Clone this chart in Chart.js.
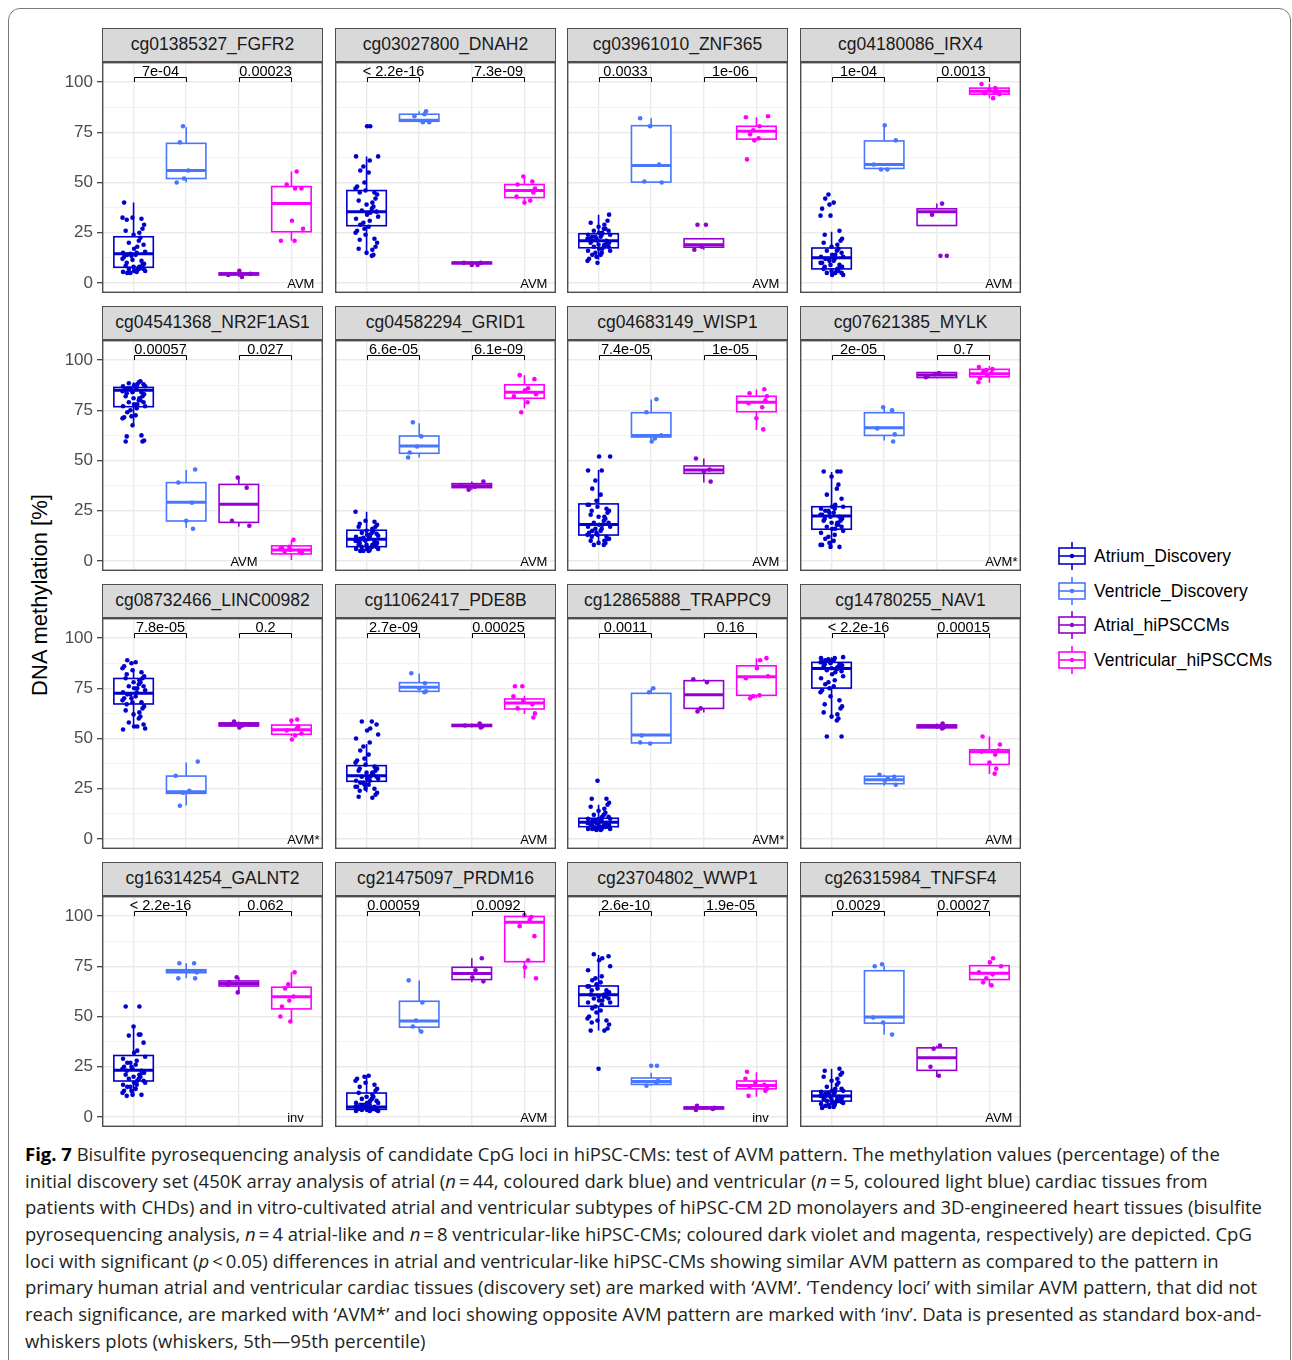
<!DOCTYPE html>
<html>
<head>
<meta charset="utf-8">
<script src="https://cdn.jsdelivr.net/npm/chart.js@4.4.1/dist/chart.umd.min.js"></script>
<style>
  body { margin: 0; background: #fff; width: 1292px; height: 1360px; position: relative; overflow: hidden;
         font-family: "Liberation Sans", Arial, sans-serif; }
  .frame { position: absolute; left: 8px; top: 8px; width: 1283px; height: 1400px; border: 1.5px solid #7a7a7a;
           border-radius: 12px; box-sizing: border-box; }
  .strip { position: absolute; height: 34px; width: 221px; background: #d9d9d9; border: 1.3px solid #4d4d4d;
           box-sizing: border-box; font-size: 17.5px; color: #1a1a1a; text-align: center; line-height: 31px; }
  canvas { position: absolute; }
  .ytitle { position: absolute; left: 40px; top: 595px; transform: translate(-50%, -50%) rotate(-90deg);
            font-size: 22px; white-space: nowrap; color: #000; }
  .leg { position: absolute; left: 1058px; height: 28px; display: flex; align-items: center; font-size: 17.5px; color: #000; }
  .leg svg { margin-right: 8px; }
  .caption { position: absolute; left: 25px; top: 1141px; font-family: "Open Sans", sans-serif; font-size: 17.5px;
             color: #231f20; transform-origin: 0 0; }
  .caption div { height: 26.7px; line-height: 26.7px; white-space: nowrap; }
  .caption b { color: #000; }
</style>
</head>
<body>
<div class="frame"></div>
<div class="ytitle">DNA methylation [%]</div>
<div id="root"></div>
<div id="legend"></div>
<div class="caption" id="caption"></div>
<script>
const probes = ['cg01385327_FGFR2', 'cg03027800_DNAH2', 'cg03961010_ZNF365', 'cg04180086_IRX4',
  'cg04541368_NR2F1AS1', 'cg04582294_GRID1', 'cg04683149_WISP1', 'cg07621385_MYLK',
  'cg08732466_LINC00982', 'cg11062417_PDE8B', 'cg12865888_TRAPPC9', 'cg14780255_NAV1',
  'cg16314254_GALNT2', 'cg21475097_PRDM16', 'cg23704802_WWP1', 'cg26315984_TNFSF4'];
const groups = ['Atrium_Discovery', 'Ventricle_Discovery', 'Atrial_hiPSCCMs', 'Ventricular_hiPSCCMs'];
const colors = ['#0000CD', '#4876FF', '#9400D3', '#FF00FF'];

const pAtrVen = ['7e-04', '< 2.2e-16', '0.0033', '1e-04', '0.00057', '6.6e-05', '7.4e-05', '2e-05',
  '7.8e-05', '2.7e-09', '0.0011', '< 2.2e-16', '< 2.2e-16', '0.00059', '2.6e-10', '0.0029'];
const pHipsc = ['0.00023', '7.3e-09', '1e-06', '0.0013', '0.027', '6.1e-09', '1e-05', '0.7',
  '0.2', '0.00025', '0.16', '0.00015', '0.062', '0.0092', '1.9e-05', '0.00027'];
const notes = ['AVM', 'AVM', 'AVM', 'AVM', 'AVM', 'AVM', 'AVM', 'AVM*',
  'AVM*', 'AVM', 'AVM*', 'AVM', 'inv', 'AVM', 'inv', 'AVM'];
const yTicks = [0, 12.5, 25, 37.5, 50, 62.5, 75, 87.5, 100];

// box stats: [whisker low, q1, median, q3, whisker high]
const boxAtrium = [[5,7.8,14.5,23,40],[15,28.5,35.5,46,63],[11.5,17.5,21,24.5,34],[4,7,12.5,17.4,25.5],
  [68,76.8,85,86.4,89],[5,7.1,10.8,15.3,24.5],[8,12.9,18.2,28.4,45.3],[7,15.8,22.4,27,44.3],
  [55.6,67.2,72.5,79.9,84.9],[23.2,28.7,31.5,36.5,47.3],[4.5,6.1,8.3,10.3,17],[59.7,75.1,84.9,87.9,90.5],
  [10.8,17.9,23.2,30.6,45],[3,3.8,5,11.9,20.7],[43,55.1,60.8,65.2,80.6],[6,7.9,10.4,12.9,24]];
const boxVentricle = [[50,52,56,69.5,77.5],[80,80.5,81,84,85.5],[50,50.2,58.5,78.3,82],[56.5,57,59,70.7,78.5],
  [16.5,19.9,29.2,39,45.3],[51.5,53.6,57.2,62.2,68.5],[59.7,61.7,62.5,73.8,80.4],[60,62.5,66.3,73.8,76.6],
  [16.6,22.7,23.5,31.3,38.1],[73,73.5,75.5,77.8,82.4],[47.5,47.8,51.7,72.5,75],[26.5,27.5,29.5,31.2,32],
  [69,71.8,72.5,73.3,76.5],[42.5,44.7,47.8,57.6,67.9],[15.5,16.2,17.7,19.4,22],[41,46.7,49.7,72.8,75.3]];
const boxAtrialIPS = [[3,4,4.5,5,6],[9,9.5,10,10.3,10.5],[16.5,17.8,19,22,22],[28.6,28.6,35.5,36.9,39.5],
  [17,19.2,28.2,38.1,41.5],[35.5,36.5,37.5,38.5,39.5],[39,43.6,45.3,47.3,51],[91,91.3,92.6,93.8,94],
  [55.5,56.2,57,57.8,58.5],[55.5,56,56.5,57,57.5],[63,65,71.8,78.8,79.5],[55,55.3,56,56.8,57.5],
  [62,65.2,66.5,67.7,69.5],[67,68.4,71.4,74.5,79],[3.5,4,4.5,5,5.5],[19.9,23.2,29.5,34.4,35.5]];
const boxVentricularIPS = [[21,25.5,39.5,48,55.5],[40,42.5,46,49,52.5],[71,71.6,75.5,78,82.5],[92,94,95.5,97,99],
  [0.5,3.5,5.5,7.5,10.4],[76,81,84,87.7,92.4],[65.2,74.3,79,82,85.4],[88.7,91.7,93.2,95.4,97],
  [51,52.1,54.4,56.7,59],[62.2,64.7,67.7,69.7,71.3],[70,71.5,80.8,86.2,90],[32.3,37.1,43.4,44.4,51],
  [48,53.8,59.9,64.6,72],[69,77.3,96.9,99.8,100.5],[10,14,15.7,17.9,22.3],[65,68.4,71.5,75.3,78]];

// individual samples (jittered points)
const atrium = [
  [40,32.5,32.5,32,31.5,29,27,26,25,24,22.5,21,20,19,18,17,15.5,15,15,14.5,14,14,13.5,13,12,11.5,11,10,9.5,9,8.5,8,8,7.5,7,7,7,6.5,6,6,5.5,5.5,5,5],
  [78,78,63,63,61,58,56,55,50,48,47,46,45,45,44,42,41,40,39,38,37,36,35.5,35,34,33,32,31,30,29,28,27,26,25,24,22,21.5,20,18,17,16.5,15,14,13.5],
  [34,31,30,29,28,27,27,26,26,25,25,24,24,24,23,23,23,22,22,22,21,21,21,20,20,20,19,19,19,18,18,18,17,17,16,16,15,15,14,14,13,12,11,10],
  [44,42,40,39,37,33.5,33.5,26,24,22,21,20,19,18,17,16,16,15,14,14,13,13,12,12,12,11,11,10,10,9,9,8,8,8,7,7,6,6,6,5,5,5,4,4],
  [89.5,89,88.5,88,88,87.5,87,87,86.5,86,86,85.5,85,85,84.5,84,84,83.5,83,82,82,81,81,80,80,79,79,78,78,77,77,76,75,74,72.5,72,71.5,71,67.5,62.5,62,60,59.5,59.5],
  [24.5,20,19.5,18.5,18,17,17,16,15,15,14,14,13.5,13,13,12.5,12,12,11.5,11,11,10.5,10,10,10,9.5,9,9,8.5,8,8,8,7.5,7,7,7,6.5,6,6,6,5.5,5,5,5],
  [52,52,45,45,40,36,33,30,28,28,27,26,25,25,24,23,22,22,21,20,19,19,18,18,17,17,16,16,15,15,14,14,13,13,12,12,11,11,10,10,9,9,8,8],
  [44.5,44.5,44.5,42,38,36,33,31,28,27,27,26,26,25,25,24,24,23,23,22,22,21,21,20,20,19,19,18,18,17,17,16,16,15,14,13,12,11,10,9,8,8,7,7],
  [89,88,87.5,86,85,84,83,82,81,80,80,79,78,78,77,76,76,75,75,74,73,73,72,72,71,70,70,69,68,68,67,66,65,64,63,62,61,60,58,57,56,56,55,54.5],
  [58.5,58.5,57,55,54,52,50,48,46,44,42,40,39,38,37,36,35,35,34,34,33,33,32,32,31,31,31,30,30,29,29,28,28,27,27,26,26,25,25,24,23,22,21,20.5],
  [29,20,20,18,17,16,15,14,13,12,12,11,11,10,10,10,9,9,9,9,8,8,8,8,8,7,7,7,7,7,7,6,6,6,6,6,6,5,5,5,5,5,4.5,4.5],
  [90.5,90,90,89.5,89,89,88.5,88,88,87.5,87,87,86.5,86,86,85.5,85,85,84.5,84,83.5,83,82,81,80,79,78,77,76,75,74,73,71,69,67,66,65,63,62,61,60,59,51,51],
  [55,55,45,41,41,40.5,37,33,32,30,29,28,27,27,26,25,25,24,24,23,23,22,22,21,21,20,20,19,19,18,18,17,17,16,16,15,15,14,13,13,12,11,11,10.5],
  [20.5,20,19,18,17,16,15,14,13,12,11,10,10,9,9,8,8,7,7,7,6,6,6,6,5,5,5,5,5,5,4,4,4,4,4,4,4,3.5,3.5,3.5,3.5,3,3,3],
  [81,80,79,78,75,73,70,69,68,67,66,65,65,64,63,63,62,62,61,61,60,60,60,59,59,58,58,57,57,56,55,54,53,52,50,49,48,48,47,46,44,43,43,24],
  [24,23,22,21,20,19,18,17,16,15,14,14,13,13,12.5,12,12,11.5,11,11,10.5,10.5,10,10,10,9.5,9,9,9,8.5,8,8,8,7.5,7,7,7,6.5,6,6,5.5,5,5,4.5]];
const ventricle = [[78,70,56,52,50],[85.5,84,83,80,80],[82,78,59,50.5,50],[78.5,71,59,56.5,56.5],
  [45.5,39,29,20,16],[69,62,57,54,51.5],[80.5,74,62.5,61,59.5],[76.5,75,66,63,59.5],
  [38.5,31.5,24,23,16.5],[82.5,77.5,75,73.5,73],[75,73,51.5,48,47.5],[32,31,30,29,27],
  [76.5,76.5,72,69,69],[68,57,48,45,42.5],[25.5,25.5,18,17,15.5],[76,75,49.5,47,41]];
const atrialIPS = [[6,4.5,4,3],[10,10,9,9],[29,29,18,16.5],[39.5,34,13.5,13.5],
  [41.5,36.5,20,17.5],[39.5,37.5,37,35.5],[51,45.5,44.5,39.5],[93.5,93,92,91.5],
  [58.5,57,56.5,55.5],[57.5,56.5,56,55.5],[79.5,78,65,63.5],[57.5,56,55.5,55],
  [69.5,67,66,62],[79,73,69.5,67.5],[5.5,4.5,4,3.5],[35.5,34,25,20.5]];
const ventricularIPS = [[55.5,49,47,47,31,27,21,21],[53,50.5,49,47,45,43,41,40],[83,82.5,78,76,74,72,71,61.5],
  [99,97,96,95.5,95,94.5,94,92],[10.5,7,6.5,6,5.5,5,4.5,4],[92.5,90.5,86,85,83,82,79,74],
  [85.5,83.5,82,80,78.5,76.5,71,65.5],[96.5,95.5,95,94,93.5,92.5,91,89],[59.5,59,56,55,54,52.5,51.5,49.5],
  [76,76,71,69,67,65,62.5,60.5],[90,89,85,81,80,71.5,71,70],[51,47,44,43.5,42,38,35,32.5],
  [72,66,64,60,58,55,50,47.5],[100.5,99.5,98,95,90,78,74.5,69],[22.5,19,17,16,15,14,13,10.5],
  [79,77,75,72,71,69,67,65.5]];

const captionLines = [
  '<b>Fig. 7</b> Bisulfite pyrosequencing analysis of candidate CpG loci in hiPSC-CMs: test of AVM pattern. The methylation values (percentage) of the',
  'initial discovery set (450K array analysis of atrial (<i>n</i>\u2009=\u200944, coloured dark blue) and ventricular (<i>n</i>\u2009=\u20095, coloured light blue) cardiac tissues from',
  'patients with CHDs) and in vitro-cultivated atrial and ventricular subtypes of hiPSC-CM 2D monolayers and 3D-engineered heart tissues (bisulfite',
  'pyrosequencing analysis, <i>n</i>\u2009=\u20094 atrial-like and <i>n</i>\u2009=\u20098 ventricular-like hiPSC-CMs; coloured dark violet and magenta, respectively) are depicted. CpG',
  'loci with significant (<i>p</i>\u2009&lt;\u20090.05) differences in atrial and ventricular-like hiPSC-CMs showing similar AVM pattern as compared to the pattern in',
  'primary human atrial and ventricular cardiac tissues (discovery set) are marked with \u2018AVM\u2019. \u2018Tendency loci\u2019 with similar AVM pattern, that did not',
  'reach significance, are marked with \u2018AVM*\u2019 and loci showing opposite AVM pattern are marked with \u2018inv\u2019. Data is presented as standard box-and-',
  'whiskers plots (whiskers, 5th\u201495th percentile)'];

const FONT = '"Liberation Sans", Arial, sans-serif';
const colLeft = [102, 335, 567, 800];
const rowTop = [62, 340, 618, 896];
const jit = [-0.18, 0.07, 0.2, -0.06, 0.13, -0.21, 0.01, 0.17, -0.12, 0.1, -0.02, 0.22,
  -0.15, 0.04, -0.09, 0.15, -0.2, 0.11, -0.04, 0.19, -0.13, 0.06, 0.0];

function panelPlugin(p) {
  const stats = [boxAtrium[p], boxVentricle[p], boxAtrialIPS[p], boxVentricularIPS[p]];
  return {
    id: 'panel' + p,
    beforeDatasetsDraw(chart) {
      const { ctx, scales: { x, y } } = chart;
      stats.forEach((s, g) => {
        const cx = x.getPixelForValue(g);
        const hw = x.getPixelForValue(g + 0.375) - cx;
        const [lo, q1, md, q3, hi] = s.map(v => y.getPixelForValue(v));
        ctx.save();
        ctx.strokeStyle = colors[g];
        ctx.lineWidth = 1.6;
        ctx.beginPath();
        ctx.moveTo(cx, q3); ctx.lineTo(cx, hi);
        ctx.moveTo(cx, q1); ctx.lineTo(cx, lo);
        ctx.stroke();
        ctx.fillStyle = '#fff';
        ctx.fillRect(cx - hw, q3, 2 * hw, q1 - q3);
        ctx.strokeRect(cx - hw, q3, 2 * hw, q1 - q3);
        ctx.lineWidth = 3;
        ctx.beginPath();
        ctx.moveTo(cx - hw, md); ctx.lineTo(cx + hw, md);
        ctx.stroke();
        ctx.restore();
      });
    },
    afterDatasetsDraw(chart) {
      const { ctx, scales: { x, y } } = chart;
      ctx.save();
      ctx.strokeStyle = '#000';
      ctx.lineWidth = 1;
      ctx.fillStyle = '#000';
      ctx.font = '14.5px ' + FONT;
      ctx.textAlign = 'center';
      ctx.textBaseline = 'alphabetic';
      [[0, 1, pAtrVen[p]], [2, 3, pHipsc[p]]].forEach(([a, b, label]) => {
        const xa = Math.round(x.getPixelForValue(a)) + 0.5, xb = Math.round(x.getPixelForValue(b)) + 0.5;
        const yt = Math.round(y.getPixelForValue(102.3)) + 0.5, yb = y.getPixelForValue(100);
        ctx.beginPath();
        ctx.moveTo(xa, yb); ctx.lineTo(xa, yt); ctx.lineTo(xb, yt); ctx.lineTo(xb, yb);
        ctx.stroke();
        ctx.fillText(label, (xa + xb) / 2, yt - 2);
      });
      ctx.font = '13px ' + FONT;
      ctx.textAlign = 'left';
      ctx.textBaseline = 'middle';
      const nx = p === 4 ? 1.84 : 2.92;
      ctx.fillText(notes[p], x.getPixelForValue(nx), y.getPixelForValue(0) + 1);
      ctx.restore();
    },
    afterDraw(chart) {
      const { ctx, chartArea: a } = chart;
      ctx.save();
      ctx.strokeStyle = '#4d4d4d';
      ctx.lineWidth = 1.4;
      ctx.strokeRect(a.left + 0.7, a.top + 0.7, a.right - a.left - 1.4, a.bottom - a.top - 1.4);
      ctx.restore();
    }
  };
}

function makePanel(p) {
  const r = Math.floor(p / 4), c = p % 4;
  const first = c === 0;
  const root = document.getElementById('root');

  const strip = document.createElement('div');
  strip.className = 'strip';
  strip.style.left = colLeft[c] + 'px';
  strip.style.top = (rowTop[r] - 34) + 'px';
  strip.textContent = probes[p];
  root.appendChild(strip);

  const cv = document.createElement('canvas');
  const w = first ? 268 : 221;
  cv.width = w; cv.height = 231;
  cv.style.width = w + 'px'; cv.style.height = '231px';
  cv.style.left = (colLeft[c] - (first ? 47 : 0)) + 'px';
  cv.style.top = rowTop[r] + 'px';
  root.appendChild(cv);

  const samples = [atrium[p], ventricle[p], atrialIPS[p], ventricularIPS[p]];
  const isMajor = ctx => ctx.tick && ctx.tick.value % 25 === 0;

  new Chart(cv, {
    type: 'scatter',
    data: {
      datasets: samples.map((vals, g) => ({
        label: groups[g],
        data: vals.map((v, i) => ({ x: g + jit[(i * 5 + g * 3 + p) % jit.length], y: v })),
        backgroundColor: colors[g],
        borderWidth: 0,
        pointRadius: 2.3,
        pointHoverRadius: 2.3
      }))
    },
    options: {
      responsive: false,
      animation: false,
      devicePixelRatio: 1,
      layout: { padding: 0, autoPadding: false },
      events: [],
      plugins: { legend: { display: false }, tooltip: { enabled: false } },
      scales: {
        x: {
          type: 'linear', min: -0.6, max: 3.6,
          afterBuildTicks: s => { s.ticks = [0, 1, 2, 3].map(v => ({ value: v })); },
          ticks: { display: false },
          grid: { color: '#ebebeb', lineWidth: 1.4, drawTicks: false },
          border: { display: false },
          afterFit: s => { s.height = 0; s.paddingLeft = 0; s.paddingRight = 0; }
        },
        y: {
          type: 'linear', min: -5, max: 110,
          afterBuildTicks: s => { s.ticks = yTicks.map(v => ({ value: v })); },
          ticks: {
            display: first, color: '#4d4d4d', padding: 4,
            font: { size: 17, family: FONT },
            callback: v => (v % 25 === 0 ? String(v) : '')
          },
          grid: {
            color: ctx => (isMajor(ctx) ? '#ebebeb' : '#f3f3f3'),
            lineWidth: ctx => (isMajor(ctx) ? 1.4 : 1),
            drawTicks: first, tickLength: 5, tickWidth: 1.2,
            tickColor: ctx => (isMajor(ctx) ? '#333' : 'rgba(0,0,0,0)')
          },
          border: { display: false },
          afterFit: s => { s.width = first ? 47 : 0; s.paddingTop = 0; s.paddingBottom = 0; }
        }
      }
    },
    plugins: [panelPlugin(p)]
  });
}

probes.forEach((_, p) => makePanel(p));

// legend
const legend = document.getElementById('legend');
const legendMid = [556, 591, 625, 660];
groups.forEach((g, i) => {
  const d = document.createElement('div');
  d.className = 'leg';
  d.style.top = (legendMid[i] - 14) + 'px';
  const col = colors[i];
  d.innerHTML = `<svg width="28" height="28" viewBox="0 0 28 28">
      <line x1="14" y1="0" x2="14" y2="28" stroke="${col}" stroke-width="1.6"/>
      <rect x="1" y="6" width="26" height="16" fill="#fff" stroke="${col}" stroke-width="1.6"/>
      <line x1="1" y1="14" x2="27" y2="14" stroke="${col}" stroke-width="1.6"/>
      <circle cx="14" cy="14" r="2.2" fill="${col}"/></svg><span>${g}</span>`;
  legend.appendChild(d);
});

// caption
const cap = document.getElementById('caption');
captionLines.forEach(t => {
  const d = document.createElement('div');
  d.innerHTML = t;
  cap.appendChild(d);
});
const ref = cap.children[2];
ref.style.display = 'inline-block';
const natural = ref.getBoundingClientRect().width;
ref.style.display = '';
cap.style.transform = `scaleX(${1237 / natural})`;
</script>
</body>
</html>
